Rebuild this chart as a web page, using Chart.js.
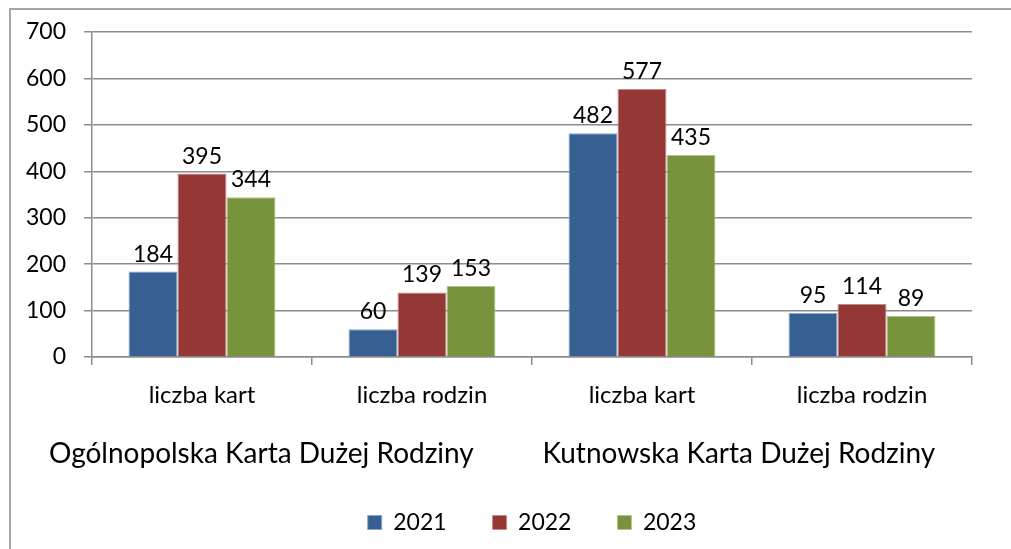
<!DOCTYPE html>
<html lang="pl">
<head>
  <meta charset="UTF-8">
  <title>Karta Dużej Rodziny</title>
  <script src="https://cdn.jsdelivr.net/npm/chart.js"></script>
  <style>
    body { margin: 0; background: #fff; overflow: hidden; }
    .frame { position: absolute; left: 9px; top: 8px; width: 1010px; height: 549px;
             border-left: 2px solid #a6a6a6; border-top: 2px solid #a6a6a6; }
    .wrap { position: absolute; left: 0; top: 0; width: 1011px; height: 549px; }
  </style>
</head>
<body>
  <div class="frame"></div>
  <div class="wrap"><canvas id="chart" width="1011" height="549"></canvas></div>

  <script>
    const categories = ['liczba kart', 'liczba rodzin', 'liczba kart', 'liczba rodzin'];
    const groups = ['Ogólnopolska Karta Dużej Rodziny', 'Kutnowska Karta Dużej Rodziny'];
    const years = ['2021', '2022', '2023'];
    const values2021 = [184, 60, 482, 95];
    const values2022 = [395, 139, 577, 114];
    const values2023 = [344, 153, 435, 89];
    const yTicks = [0, 100, 200, 300, 400, 500, 600, 700];

    const FONT = 'Lato';
    const grid = '#8c8c8c';

    // value labels on top of each bar
    const valueLabels = {
      id: 'valueLabels',
      afterDatasetsDraw(chart) {
        const ctx = chart.ctx;
        ctx.save();
        ctx.font = '23px ' + FONT;
        ctx.fillStyle = '#000';
        ctx.textAlign = 'center';
        ctx.textBaseline = 'alphabetic';
        chart.data.datasets.forEach((ds, i) => {
          chart.getDatasetMeta(i).data.forEach((bar, j) => {
            ctx.fillText(ds.data[j], bar.x, bar.y - 10);
          });
        });
        ctx.restore();
      }
    };

    // second level of category labels
    const groupLabels = {
      id: 'groupLabels',
      afterDraw(chart) {
        const x = chart.scales.x;
        const ctx = chart.ctx;
        ctx.save();
        ctx.font = '28px ' + FONT;
        ctx.fillStyle = '#000';
        ctx.textAlign = 'center';
        ctx.textBaseline = 'middle';
        ctx.fillText(groups[0], x.getPixelForValue(0.27), x.top + 97);
        ctx.fillText(groups[1], x.getPixelForValue(2.44), x.top + 97);
        ctx.restore();
      }
    };

    const ctx = document.getElementById('chart').getContext('2d');
    new Chart(ctx, {
      type: 'bar',
      data: {
        labels: categories,
        datasets: [
          { label: years[0], data: values2021, backgroundColor: '#376092', borderColor: '#8ea6c8', borderWidth: 1 },
          { label: years[1], data: values2022, backgroundColor: '#953735', borderColor: '#c48a89', borderWidth: 1 },
          { label: years[2], data: values2023, backgroundColor: '#77933c', borderColor: '#b3c68e', borderWidth: 1 }
        ]
      },
      plugins: [valueLabels, groupLabels],
      options: {
        responsive: false,
        animation: false,
        datasets: { bar: { categoryPercentage: 0.668, barPercentage: 1 } },
        layout: { padding: { top: 32, left: 0, right: 39, bottom: 5 } },
        plugins: {
          tooltip: { enabled: false },
          legend: {
            position: 'bottom',
            fullSize: false,
            labels: {
              font: { family: FONT, size: 23 },
              color: '#000',
              boxWidth: 14,
              boxHeight: 14,
              padding: 46
            }
          }
        },
        scales: {
          x: {
            afterFit(s) { s.height = 108; },
            grid: { drawOnChartArea: false, color: grid, lineWidth: 1.5, tickLength: 8, offset: true },
            border: { color: grid, width: 1.5 },
            ticks: { font: { family: FONT, size: 24 }, color: '#000', padding: 16 }
          },
          y: {
            min: 0,
            max: 700,
            afterFit(s) { s.width = 92; },
            afterBuildTicks(s) { s.ticks = yTicks.map(v => ({ value: v })); },
            grid: { color: grid, lineWidth: 1.5, tickLength: 8 },
            border: { color: grid, width: 1.5 },
            ticks: { font: { family: FONT, size: 23 }, color: '#000', padding: 18 }
          }
        }
      }
    });
  </script>
</body>
</html>
